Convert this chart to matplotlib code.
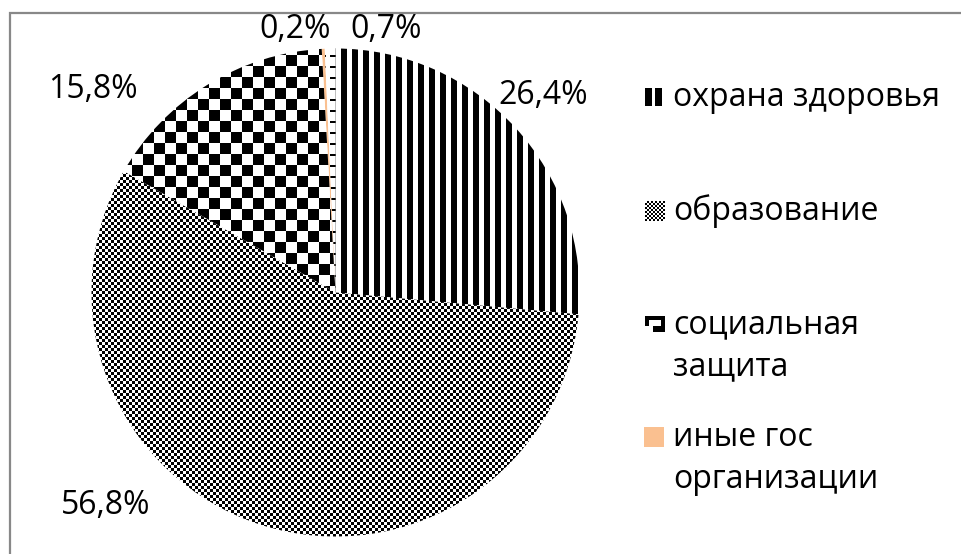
import numpy as np
import matplotlib
matplotlib.use("Agg")
import matplotlib.pyplot as plt
from matplotlib.patches import Rectangle

plt.rcParams['font.family'] = ['Open Sans', 'DejaVu Sans']

# data
categories = ["охрана здоровья", "образование", "социальная\nзащита",
              "иные гос\nорганизации", ""]
values = [26.4, 56.8, 15.8, 0.2, 0.7]
pct_labels = ["26,4%", "56,8%", "15,8%", "0,2%", "0,7%"]
patterns = ["vstripes", "finecheck", "bigcheck", None, "hdash"]
solid_colors = ["none", "none", "none", "#FAC090", "none"]

W, H = 962, 554
cx, cy, R = 335.5, H - 292.5, 244
label_pos = [(543, 95), (106, 506), (93, 90), (295, 30), (386, 30)]  # pixel, from top
legend_rows = [97, 211, 325, 437]
line_step = 42
fs = 23

# pattern images in screen pixels (row 0 = top)
yy, xx = np.mgrid[0:H, 0:W]
pattern_img = {
    "vstripes": ((xx % 11) < 6).astype(float),
    "finecheck": (((xx // 3) + (yy // 3)) % 2).astype(float),
    "bigcheck": (((xx // 11) + (yy // 11)) % 2).astype(float),
    "hdash": (((yy % 11) < 2) & ((xx % 10) < 6)).astype(float),
}

fig = plt.figure(figsize=(W / 100, H / 100), dpi=100)
ax = fig.add_axes([0, 0, 1, 1])

wedges, _ = ax.pie(values, colors=solid_colors, startangle=90,
                   counterclock=False, center=(cx, cy), radius=R,
                   wedgeprops=dict(linewidth=0), frame=True)

for w, p in zip(wedges, patterns):
    if p is None:
        continue
    im = ax.imshow(pattern_img[p], cmap="gray_r", vmin=0, vmax=1,
                   extent=(0, W, 0, H), origin="upper",
                   interpolation="nearest", zorder=1)
    im.set_clip_path(w)
    w.set_zorder(2)

# percentage labels
for txt, (x, y) in zip(pct_labels, label_pos):
    ax.text(x, H - y, txt, ha="center", va="center", fontsize=fs, color="black")

# legend icons (only the first four entries are shown in the original)
icons = {}
bars = np.zeros((18, 18))
bars[:, 0:7] = 1
bars[:, 10:17] = 1
icons["vstripes"] = bars
icons["finecheck"] = ((np.indices((20, 20)) // 2).sum(axis=0) % 2).astype(float)
bc = np.zeros((20, 20))
bc[0:4, :] = 1
bc[:, 0:4] = 1
bc[:, 16:] = 1
bc[10:, 8:] = 1
bc[16:, :] = 0
bc[10:16, 0:4] = 0
bc[4:10, 4:16] = 0
icons["bigcheck"] = bc[:17, :]

for cat, p, col, yrow in zip(categories[:4], patterns[:4], solid_colors[:4], legend_rows):
    y0 = H - yrow
    if p is None:
        ax.add_patch(Rectangle((644, y0 - 10), 20, 20, facecolor=col, edgecolor="none"))
    else:
        icon = icons[p]
        h, w_ = icon.shape
        ax.imshow(icon, cmap="gray_r", vmin=0, vmax=1,
                  extent=(645, 645 + w_, y0 - h / 2, y0 + h / 2),
                  interpolation="nearest")
    for i, line in enumerate(cat.split("\n")):
        ax.text(673, y0 - i * line_step, line, ha="left", va="center",
                fontsize=fs, color="black")

ax.set_xlim(0, W)
ax.set_ylim(0, H)
ax.set_aspect("auto")
ax.axis("off")

# chart frame (only top and left edges visible)
ax.plot([10.5, 10.5, W], [0, H - 12.5, H - 12.5], color="#888888", lw=1.6,
        solid_joinstyle="miter")

fig.savefig("out.png", dpi=100)
